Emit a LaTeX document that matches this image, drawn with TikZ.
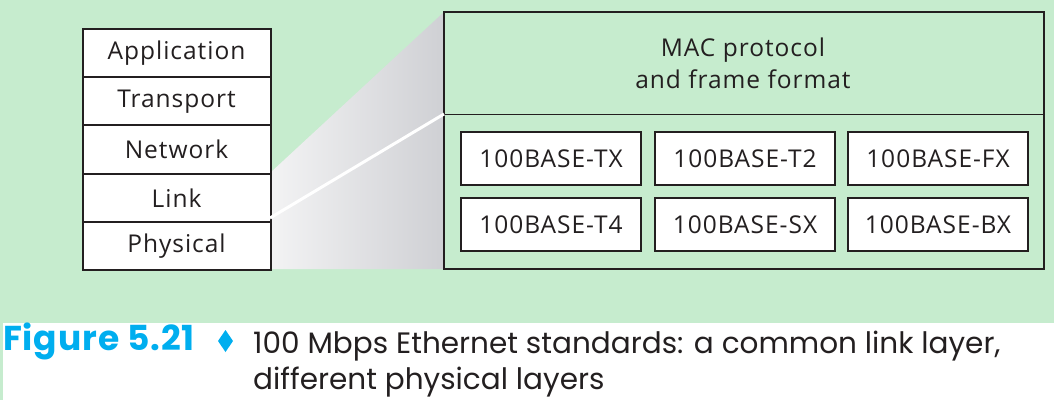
\documentclass[tikz,border=0pt]{standalone}
\usepackage{fontspec}
\usetikzlibrary{calc}
\newfontfamily\diafont{Open Sans}[LetterSpace=4]
\newfontfamily\capfont{Poppins}
\newfontfamily\figfont{Poppins}[LetterSpace=2.5]
\definecolor{bggreen}{RGB}{198,236,206}
\definecolor{ink}{RGB}{35,31,32}
\definecolor{figcyan}{RGB}{0,174,239}
\definecolor{wedgeL}{RGB}{243,243,244}
\definecolor{wedgeR}{RGB}{207,208,212}
\tikzset{
  layer/.style={draw=ink, line width=2pt, fill=white, minimum width=188pt, minimum height=48.2pt, inner sep=0pt, font=\diafont\fontsize{24.5}{28}\selectfont, text=ink},
  stdbox/.style={draw=ink, line width=2pt, fill=white, minimum width=180pt, minimum height=53pt, inner sep=0pt, font=\diafont\fontsize{24.5}{28}\selectfont, text=ink},
  bigbox/.style={draw=ink, line width=2pt, minimum width=600pt, minimum height=257pt, inner sep=0pt},
  label/.style={font=\diafont\fontsize{24.5}{32}\selectfont, text=ink, align=center},
  captext/.style={font=\capfont\fontsize{29.5}{36}\selectfont, text=ink, inner sep=0pt, anchor=base west},
  figlabel/.style={font=\figfont\bfseries\fontsize{34.5}{36}\selectfont, text=figcyan, inner sep=0pt, anchor=base west},
}
\begin{document}
\begin{tikzpicture}[x=1pt,y=-1pt]
\useasboundingbox (0,0) rectangle (1054,400);
\fill[bggreen] (0,0) rectangle (1054,323);
\fill[bggreen] (0,323) rectangle (3,400);
% wedge
\coordinate (wtl) at (270,173);
\coordinate (wtr) at (444,12);
\coordinate (wbr) at (444,269);
\coordinate (wbl) at (270,269);
\shade[left color=wedgeL, right color=wedgeR] (wtl) -- (wtr) -- (wbr) -- (wbl) -- cycle;
% protocol stack
\node[layer] (app)  at (176.5,53.1)  {Application};
\node[layer] (trn)  at (176.5,101.3) {Transport};
\node[layer] (net)  at (176.5,149.5) {Network};
\node[layer] (lnk)  at (176.5,197.7) {Link};
\node[layer] (phy)  at (176.5,245.9) {Physical};
% big box
\node[bigbox] (mac) at (744,140.5) {};
\coordinate (divL) at (444,114);
\coordinate (divR) at (1044,114);
\draw[ink, line width=1pt] (divL) -- (divR);
\node[label] (mactext) at (743,63) {MAC protocol\\and frame format};
% white line
\coordinate (wl) at (270,218);
\draw[white, line width=3pt] (wl) -- (divL);
% standards
\node[stdbox] (tx) at (551,158.5) {100BASE-TX};
\node[stdbox] (t2) at (745,158.5) {100BASE-T2};
\node[stdbox] (fx) at (938,158.5) {100BASE-FX};
\node[stdbox] (t4) at (551,224.5) {100BASE-T4};
\node[stdbox] (sx) at (745,224.5) {100BASE-SX};
\node[stdbox] (bx) at (938,224.5) {100BASE-BX};
% caption
\node[figlabel] (fig) at (3,350) {Figure 5.21};
\coordinate (dc) at (225.5,341);
\fill[figcyan] ($(dc)+(0,-11)$) -- ($(dc)+(7.5,0)$) -- ($(dc)+(0,11)$) -- ($(dc)+(-7.5,0)$) -- cycle;
\node[captext] (cap1) at (253,353) {100 Mbps Ethernet standards: a common link layer,};
\node[captext] (cap2) at (253,389) {different physical layers};
\end{tikzpicture}
\end{document}
